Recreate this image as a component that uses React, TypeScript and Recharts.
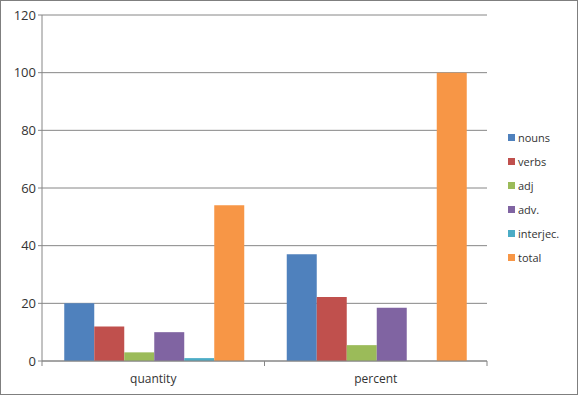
import { Bar, BarChart, CartesianGrid, XAxis, YAxis } from "recharts";

const categories = ["quantity", "percent"];
const nouns = [20, 37];
const verbs = [12, 22.2];
const adj = [3, 5.5];
const adv = [10, 18.5];
const interjec = [1, 0];
const total = [54, 100];
const yTicks = [0, 20, 40, 60, 80, 100, 120];

const series = [
  { key: "nouns", values: nouns, color: "#4F81BD" },
  { key: "verbs", values: verbs, color: "#C0504D" },
  { key: "adj", values: adj, color: "#9BBB59" },
  { key: "adv.", values: adv, color: "#8064A2" },
  { key: "interjec.", values: interjec, color: "#4BACC6" },
  { key: "total", values: total, color: "#F79646" },
];

const data = categories.map((name, i) => {
  const row: Record<string, string | number> = { name };
  series.forEach((s) => (row[s.key] = s.values[i]));
  return row;
});

const font = "'Open Sans', 'DejaVu Sans', sans-serif";

function CategoryTick(props: any) {
  const { x, y, payload } = props;
  const half = payload?.offset ? payload.offset : 111.25;
  return (
    <g>
      <line x1={x - half} y1={y - 8} x2={x - half} y2={y - 3} stroke="#868686" />
      <line x1={x + half} y1={y - 8} x2={x + half} y2={y - 3} stroke="#868686" />
      <text x={x} y={y + 14} textAnchor="middle" fontSize={12} fill="#333" fontFamily={font}>
        {payload.value}
      </text>
    </g>
  );
}

export default function App() {
  return (
    <div
      style={{
        position: "absolute",
        left: 0,
        top: 0,
        width: 578,
        height: 395,
        boxSizing: "border-box",
        border: "1px solid #7f7f7f",
        background: "#fff",
      }}
    >
      <BarChart
        width={576}
        height={393}
        data={data}
        margin={{ top: 14, right: 90, bottom: 3, left: 0 }}
        barCategoryGap="10%"
        barGap={0}
      >
        <CartesianGrid vertical={false} stroke="#868686" />
        <XAxis
          dataKey="name"
          stroke="#868686"
          tickLine={false}
          tick={<CategoryTick />}
          height={30}
          interval={0}
        />
        <YAxis
          domain={[0, 120]}
          ticks={yTicks}
          width={41}
          stroke="#868686"
          tickSize={4}
          tick={{ fill: "#333", fontSize: 13, fontFamily: font }}
          interval={0}
        />
        {series.map((s) => (
          <Bar key={s.key} dataKey={s.key} fill={s.color} isAnimationActive={false} />
        ))}
      </BarChart>
      <div
        style={{
          position: "absolute",
          left: 507,
          top: 124,
          fontFamily: font,
          fontSize: 11,
          color: "#333",
        }}
      >
        {series.map((s) => (
          <div key={s.key} style={{ display: "flex", alignItems: "center", height: 24 }}>
            <span style={{ width: 7, height: 7, background: s.color, marginRight: 3 }} />
            <span>{s.key}</span>
          </div>
        ))}
      </div>
    </div>
  );
}
